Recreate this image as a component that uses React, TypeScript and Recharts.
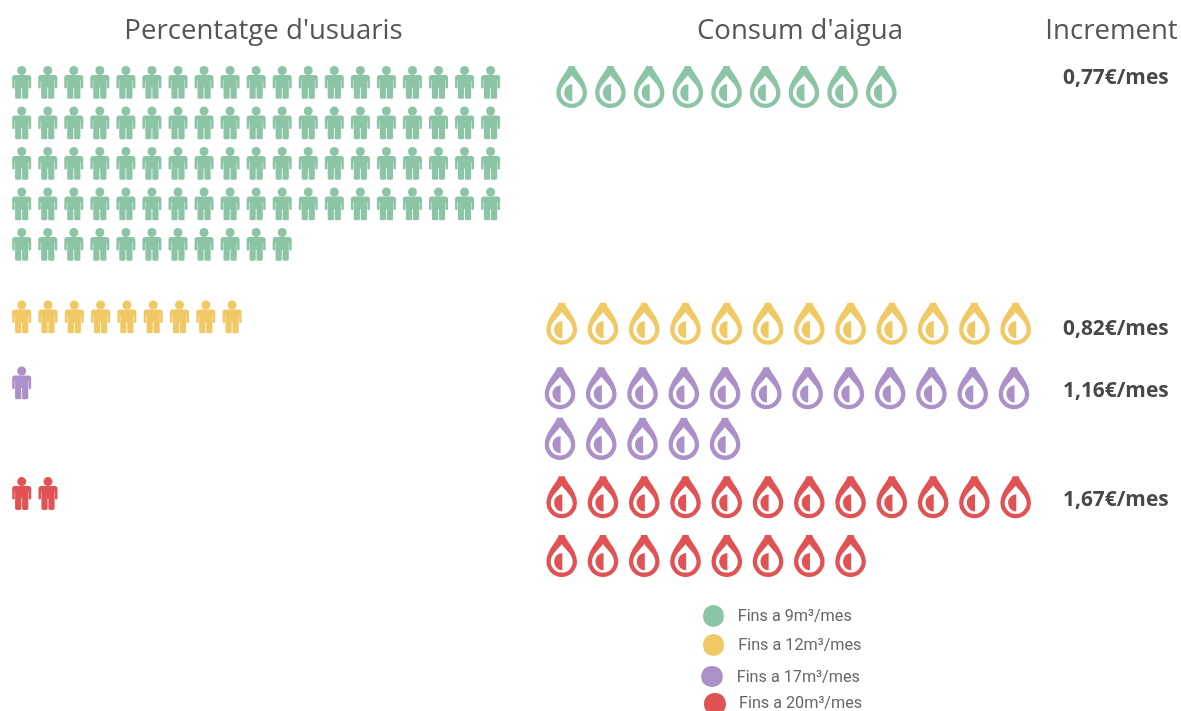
import React from "react";
import { ScatterChart, Scatter, XAxis, YAxis, Legend } from "recharts";

const WIDTH = 1181;
const HEIGHT = 711;

// Data
const categories = ["Fins a 9m³/mes", "Fins a 12m³/mes", "Fins a 17m³/mes", "Fins a 20m³/mes"];
const colors = ["#8cc4a6", "#f0c965", "#ab90c9", "#e05254"];
const userCounts = [87, 9, 1, 2];
const waterCounts = [9, 12, 17, 20];
const increments = ["0,77€/mes", "0,82€/mes", "1,16€/mes", "1,67€/mes"];
const titles = ["Percentatge d'usuaris", "Consum d'aigua", "Increment"];

// Layout, in icon rows and columns
const usersPerRow = 19;
const dropsPerRow = 12;
const userRowBands = [[0, 1, 2, 3, 4], [5.79], [7.42], [10.15]];
const dropRowBands = [[0.25], [6.1], [7.69, 8.94], [10.38, 11.83]];
const userAxisIds = ["usersNarrow", "usersWide", "usersWide", "usersWide"];
const dropAxisIds = ["dropsNarrow", "dropsWide", "dropsPurple", "dropsWide"];

// Scale geometry: where column/row zero falls and how wide one step is
const userNarrowStep = 26.05;
const userWideStep = 26.3;
const userOrigin = 21.7;
const rowStep = 40.5;
const rowOrigin = 82.5;
const dropNarrowStep = 38.7;
const dropNarrowOrigin = 571.7;
const dropWideStep = 41.27;
const dropWideOrigin = 561.7;
const dropPurpleOrigin = 560;

const domainFor = (origin: number, step: number, size: number): [number, number] => [
  -origin / step,
  (size - origin) / step,
];

type Pt = { col: number; row: number };

const grid = (count: number, perRow: number, bands: number[]): Pt[] => {
  const pts: Pt[] = [];
  for (let i = 0; i < count; i++) {
    pts.push({ col: i % perRow, row: bands[Math.floor(i / perRow)] });
  }
  return pts;
};

const PersonIcon = (color: string) => (props: any) => {
  const { cx, cy } = props;
  return (
    <g transform={`translate(${cx},${cy})`} fill={color}>
      <circle cx={0} cy={-12} r={4.5} />
      <path d="M-6.8,-7.6 L6.8,-7.6 Q9.5,-7.6 9.5,-5 L9.5,5 Q9.5,6 8.1,6 Q7,6 7,5 L7,-2 L6.6,-2 L6.6,15 Q6.6,16.3 4.6,16.3 L1.9,16.3 Q0.4,16.3 0.4,15 L0.4,5 L-0.4,5 L-0.4,15 Q-0.4,16.3 -1.9,16.3 L-4.6,16.3 Q-6.6,16.3 -6.6,15 L-6.6,-2 L-7,-2 L-7,5 Q-7,6 -8.1,6 Q-9.5,6 -9.5,5 L-9.5,-5 Q-9.5,-7.6 -6.8,-7.6 Z" />
    </g>
  );
};

const DropIcon = (color: string) => (props: any) => {
  const { cx, cy } = props;
  return (
    <g transform={`translate(${cx},${cy})`} fill={color}>
      <path
        fillRule="evenodd"
        d="M-3,-26.7 L3,-26.7 C3.8,-21.5 15.3,-11.5 15.3,0 A15.3,15.3 0 1 1 -15.3,0 C-15.3,-11.5 -3.8,-21.5 -3,-26.7 Z M0,-17.5 C2.5,-13 11,-7.5 11,0 A11,11 0 1 1 -11,0 C-11,-7.5 -2.5,-13 0,-17.5 Z"
      />
      <path d="M0.6,-8.6 A8.2,8.6 0 0 0 0.6,8.6 Z" />
    </g>
  );
};

const legendOffsets = [
  { dotX: 713.5, dotY: 616, textX: 737.7, textY: 616.4 },
  { dotX: 713.5, dotY: 645, textX: 738.3, textY: 645.4 },
  { dotX: 712, dotY: 676.5, textX: 736.7, textY: 676.7 },
  { dotX: 715, dotY: 704, textX: 739, textY: 703 },
];

const LegendContent = () => (
  <div style={{ position: "relative", width: 0, height: 0, pointerEvents: "none" }}>
    {categories.map((name, i) => {
      const o = legendOffsets[i];
      return (
        <React.Fragment key={name}>
          <span
            style={{
              position: "absolute",
              left: o.dotX - 10.6,
              top: o.dotY - 10.6,
              width: 21.2,
              height: 21.2,
              borderRadius: "50%",
              background: colors[i],
            }}
          />
          <span
            style={{
              position: "absolute",
              left: o.textX,
              top: o.textY - 8,
              lineHeight: "16px",
              whiteSpace: "nowrap",
              fontFamily: "Roboto, sans-serif",
              fontSize: 16.2,
              color: "#666",
            }}
          >
            {name}
          </span>
        </React.Fragment>
      );
    })}
  </div>
);

const titlePos = [263.5, 800, 1111.5];
const incrementBaselines = [84, 335, 397, 506];

export default function App() {
  return (
    <div style={{ position: "absolute", left: 0, top: 0, width: WIDTH, height: HEIGHT, overflow: "hidden", background: "#fff", filter: "blur(0.45px)" }}>
      <ScatterChart width={WIDTH} height={HEIGHT} margin={{ top: 0, right: 0, bottom: 0, left: 0 }}>
        <XAxis xAxisId="usersNarrow" type="number" dataKey="col" hide allowDataOverflow domain={domainFor(userOrigin, userNarrowStep, WIDTH)} />
        <XAxis xAxisId="usersWide" type="number" dataKey="col" hide allowDataOverflow domain={domainFor(userOrigin, userWideStep, WIDTH)} />
        <XAxis xAxisId="dropsNarrow" type="number" dataKey="col" hide allowDataOverflow domain={domainFor(dropNarrowOrigin, dropNarrowStep, WIDTH)} />
        <XAxis xAxisId="dropsWide" type="number" dataKey="col" hide allowDataOverflow domain={domainFor(dropWideOrigin, dropWideStep, WIDTH)} />
        <XAxis xAxisId="dropsPurple" type="number" dataKey="col" hide allowDataOverflow domain={domainFor(dropPurpleOrigin, dropWideStep, WIDTH)} />
        <YAxis yAxisId="rows" type="number" dataKey="row" hide reversed allowDataOverflow domain={domainFor(rowOrigin, rowStep, HEIGHT)} />

        {categories.map((name, i) => (
          <Scatter
            key={"u" + i}
            name={name + " usuaris"}
            xAxisId={userAxisIds[i]}
            yAxisId="rows"
            data={grid(userCounts[i], usersPerRow, userRowBands[i])}
            fill={colors[i]}
            shape={PersonIcon(colors[i])}
            isAnimationActive={false}
          />
        ))}
        {categories.map((name, i) => (
          <Scatter
            key={"d" + i}
            name={name}
            xAxisId={dropAxisIds[i]}
            yAxisId="rows"
            data={grid(waterCounts[i], dropsPerRow, dropRowBands[i])}
            fill={colors[i]}
            shape={DropIcon(colors[i])}
            isAnimationActive={false}
          />
        ))}

        {titles.map((t, i) => (
          <text key={t} x={titlePos[i]} y={39} textAnchor="middle" fontFamily="'Open Sans', sans-serif" fontSize={27.6} fill="#555">
            {t}
          </text>
        ))}
        {increments.map((t, i) => (
          <text key={t} x={1063} y={incrementBaselines[i]} fontFamily="'Open Sans', sans-serif" fontWeight={700} fontSize={20.9} fill="#484848">
            {t}
          </text>
        ))}
        <Legend content={LegendContent} wrapperStyle={{ left: 0, top: 0, width: 0, height: 0, pointerEvents: "none" }} />
      </ScatterChart>
    </div>
  );
}
